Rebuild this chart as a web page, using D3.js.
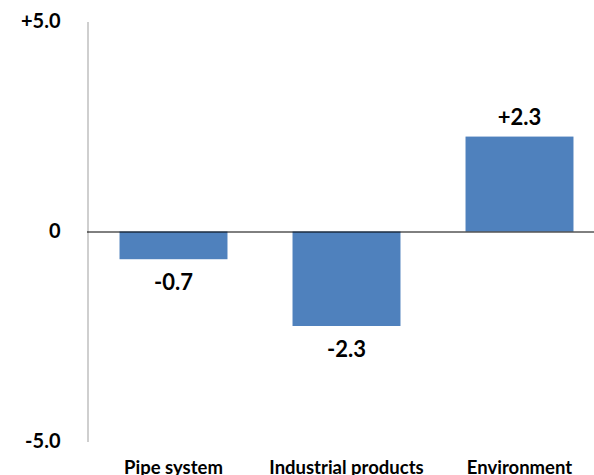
<!DOCTYPE html>
<html>
<head>
<meta charset="utf-8">
<script src="https://cdn.jsdelivr.net/npm/d3@7"></script>
<style>
  body { margin: 0; background: #fff; }
  text { font-family: Lato, "Open Sans", sans-serif; font-weight: bold; fill: #000; }
</style>
</head>
<body>
<div class="chart"></div>
<script>

// Chart data
var categories = ["Pipe system", "Industrial products", "Environment"];
var values = [-0.66, -2.25, 2.26];
var valueLabels = ["-0.7", "-2.3", "+2.3"];
var tickValues = [-5, 0, 5];
var tickLabels = ["-5.0", "0", "+5.0"];

var width = 594,
    height = 475;

var svg = d3.select(".chart")
    .append("svg")
        .attr("width", width)
        .attr("height", height);

// Scales: plot runs off the right edge like the original
var x = d3.scaleBand()
    .domain(categories)
    .range([87, 606])
    .paddingInner(0.376)
    .paddingOuter(0.188);

var y = d3.scaleLinear()
    .domain([-5, 5])
    .range([441.5, 21.5]);

// Y axis (grey line, no ticks)
var yAxis = d3.axisLeft(y)
    .tickValues(tickValues)
    .tickFormat(function(d, i) { return tickLabels[i]; })
    .tickSize(0)
    .tickPadding(27);

var gy = svg.append("g")
    .attr("transform", "translate(87.5,0)")
    .call(yAxis);

gy.select(".domain")
    .attr("stroke", "#bfbfbf")
    .attr("stroke-width", 1.5);

gy.selectAll("text")
    .style("font-size", "20px")
    .style("font-family", "Lato, sans-serif")
    .style("font-weight", "bold")
    .attr("fill", "#000");

// Bars
svg.selectAll(".bar")
    .data(values)
    .enter().append("rect")
        .attr("class", "bar")
        .attr("x", function(d, i) { return x(categories[i]); })
        .attr("y", function(d) { return y(Math.max(0, d)); })
        .attr("width", x.bandwidth())
        .attr("height", function(d) { return Math.abs(y(d) - y(0)); })
        .style("fill", "#4f81bd");

// Zero line
svg.append("line")
    .attr("x1", 87)
    .attr("x2", width)
    .attr("y1", y(0) + 0.5)
    .attr("y2", y(0) + 0.5)
    .attr("stroke", "#000")
    .attr("stroke-width", 1);

// Value labels
svg.selectAll(".value")
    .data(values)
    .enter().append("text")
        .attr("class", "value")
        .attr("x", function(d, i) { return x(categories[i]) + x.bandwidth() / 2; })
        .attr("y", function(d) { return d < 0 ? y(d) + 31 : y(d) - 11.5; })
        .attr("text-anchor", "middle")
        .style("font-size", "22px")
        .text(function(d, i) { return valueLabels[i]; });

// Category labels
svg.selectAll(".cat")
    .data(categories)
    .enter().append("text")
        .attr("class", "cat")
        .attr("x", function(d) { return x(d) + x.bandwidth() / 2; })
        .attr("y", 474)
        .attr("text-anchor", "middle")
        .style("font-size", "18.5px")
        .text(function(d) { return d; });

</script>
</body>
</html>
